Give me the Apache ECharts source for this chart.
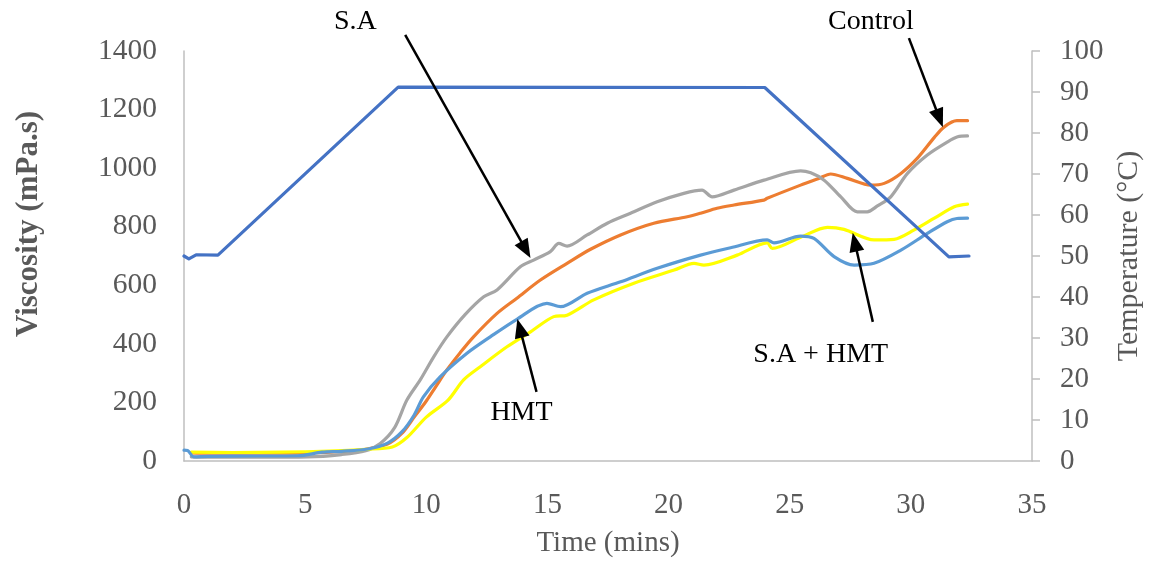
<!DOCTYPE html>
<html>
<head>
<meta charset="utf-8">
<script src="https://cdn.jsdelivr.net/npm/echarts@6/dist/echarts.min.js"></script>
<style>
  html, body { margin: 0; padding: 0; background: #fff; }
  #chart { width: 1157px; height: 564px; }
</style>
</head>
<body>
<div id="chart"></div>
<script>
// Pasting profile: viscosity of four samples against time, with the temperature programme.
const controlTime = [0.3, 1, 3, 5, 6.5, 7.5, 8.4, 9.0, 9.5, 10.0, 10.4, 10.85, 11.4, 11.95, 12.92, 13.74, 14.71, 15.81, 16.78, 18.02, 19.39, 20.77, 21.32, 22.0, 22.7, 23.94, 24.07, 25.45, 26.2, 26.69, 27.38, 28.35, 28.9, 29.59, 30.28, 30.97, 31.38, 31.9, 32.34];
const controlVisc = [28, 27, 27, 28, 32, 40, 58, 95, 150, 205, 255, 311, 370, 424, 504, 556, 618, 675, 723, 772, 812, 834, 846, 863, 874, 891, 897, 942, 965, 980, 965, 942, 948, 982, 1035, 1105, 1141, 1162, 1162];

const saTime = [0.3, 1, 3, 5.1, 6.5, 7.5, 8.1, 8.7, 9.2, 9.75, 10.3, 10.85, 11.6, 12.37, 12.92, 13.88, 14.43, 15.12, 15.47, 15.81, 16.64, 17.47, 18.43, 19.53, 20.63, 21.38, 21.8, 22.7, 23.94, 25.45, 25.87, 26.42, 27.11, 27.79, 28.2, 28.62, 29.17, 29.86, 30.68, 31.52, 31.93, 32.34];
const saVisc = [14, 13, 13, 14, 22, 35, 60, 115, 208, 277, 355, 424, 500, 561, 584, 663, 686, 715, 743, 734, 772, 812, 846, 885, 914, 925, 902, 925, 959, 991, 984, 959, 902, 851, 851, 871, 902, 982, 1045, 1090, 1107, 1110];

const hmtTime = [0, 0.15, 0.4, 1, 3, 4.7, 5.7, 6.5, 7.6, 8.4, 9.0, 9.5, 9.88, 10.58, 11.68, 12.64, 13.74, 14.98, 15.54, 16.64, 18.02, 19.53, 21.32, 22.56, 24.07, 24.35, 25.45, 26.0, 26.83, 27.66, 28.48, 29.59, 30.68, 31.5, 31.9, 32.34];
const hmtVisc = [37, 36, 14, 16, 17, 18, 30, 33, 41, 61, 100, 157, 219, 288, 368, 424, 484, 538, 527, 573, 612, 658, 703, 728, 755, 745, 768, 760, 698, 669, 675, 720, 777, 817, 828, 829];

const saHmtTime = [0.3, 2, 4, 6, 7.5, 8.6, 9.2, 10.0, 10.9, 11.54, 12.23, 13.33, 14.3, 15.26, 15.81, 16.91, 18.57, 20.23, 21.05, 21.46, 22.83, 24.07, 24.28, 25.45, 26.56, 27.24, 28.48, 29.31, 30.14, 30.97, 31.79, 32.34];
const saHmtVisc = [30, 29, 30, 34, 40, 48, 80, 150, 208, 277, 322, 390, 441, 493, 498, 550, 607, 652, 675, 669, 703, 745, 726, 764, 798, 791, 755, 757, 789, 829, 868, 877];

const tempTime = [0, 0.2, 0.5, 1.4, 8.84, 23.97, 31.57, 32.4];
const tempValue = [50, 49.3, 50.3, 50.2, 91.2, 91.1, 49.8, 50];

const xTicks = { min: 0, max: 35, interval: 5 };
const viscTicks = { min: 0, max: 1400, interval: 200 };
const tempTicks = { min: 0, max: 100, interval: 10 };

// Callout labels with arrows, in time / viscosity units
const callouts = [
  { text: 'S.A',       label: [7.07, 1499],  from: [9.13, 1455],  to: [14.3, 693] },
  { text: 'Control',   label: [28.35, 1499], from: [29.92, 1444], to: [31.32, 1140] },
  { text: 'HMT',       label: [13.93, 164],  from: [14.55, 236],  to: [13.76, 485] },
  { text: 'S.A + HMT', label: [26.28, 362],  from: [28.43, 475],  to: [27.6, 779] }
];

const FONT = "'Liberation Serif', 'Times New Roman', serif";
const AXIS_GRAY = '#bfbfbf';
const TEXT_GRAY = '#595959';

const zip = (xs, ys) => xs.map((x, i) => [x, ys[i]]);

function lineSeries(name, xs, ys, color, yAxisIndex, smooth) {
  return {
    name, type: 'line', yAxisIndex: yAxisIndex || 0,
    data: zip(xs, ys), showSymbol: false, symbol: 'none',
    smooth: smooth || false,
    lineStyle: { color, width: 3.2, cap: 'round', join: 'round' }, itemStyle: { color },
    animation: false
  };
}

const chart = echarts.init(document.getElementById('chart'));
chart.setOption({
  backgroundColor: '#fff',
  animation: false,
  grid: { left: 184, right: 125, top: 51, bottom: 103 },
  xAxis: {
    type: 'value', ...xTicks,
    axisLine: { show: true, lineStyle: { color: AXIS_GRAY, width: 1.5 } },
    axisTick: { show: false },
    splitLine: { show: false },
    axisLabel: { margin: 30, fontSize: 29, color: TEXT_GRAY, fontFamily: FONT },
    name: 'Time (mins)', nameLocation: 'middle', nameGap: 68,
    nameTextStyle: { fontSize: 29, color: TEXT_GRAY, fontFamily: FONT }
  },
  yAxis: [
    {
      type: 'value', position: 'left', ...viscTicks,
      axisLine: { show: true, lineStyle: { color: AXIS_GRAY, width: 1.5 } },
      axisTick: { show: false },
      splitLine: { show: false },
      axisLabel: { margin: 27, fontSize: 29.5, color: TEXT_GRAY, fontFamily: FONT, formatter: (v) => String(v) },
      name: 'Viscosity (mPa.s)', nameLocation: 'middle', nameGap: 140,
      nameTextStyle: { fontSize: 31, fontWeight: 'bold', color: TEXT_GRAY, fontFamily: FONT, padding: [0, 0, 0, 64] }
    },
    {
      type: 'value', position: 'right', ...tempTicks,
      axisLine: { show: true, lineStyle: { color: AXIS_GRAY, width: 1.5 } },
      axisTick: { show: true, length: 8, lineStyle: { color: AXIS_GRAY, width: 1.5 } },
      splitLine: { show: false },
      axisLabel: { margin: 28, fontSize: 29, color: TEXT_GRAY, fontFamily: FONT },
      name: 'Temperature (°C)', nameLocation: 'middle', nameGap: 74,
      nameTextStyle: { fontSize: 30, color: TEXT_GRAY, fontFamily: FONT }
    }
  ],
  series: [
    lineSeries('Control', controlTime, controlVisc, '#ED7D31', 0, 0.3),
    lineSeries('S.A', saTime, saVisc, '#A5A5A5', 0, 0.3),
    lineSeries('S.A + HMT', saHmtTime, saHmtVisc, '#FFFF00', 0, 0.3),
    lineSeries('HMT', hmtTime, hmtVisc, '#5B9BD5', 0, 0.3),
    lineSeries('Temperature', tempTime, tempValue, '#4472C4', 1, false)
  ]
});

// Arrows and their labels, placed through the viscosity/time scales
const toPx = (p) => chart.convertToPixel({ xAxisIndex: 0, yAxisIndex: 0 }, p);
const graphics = [];
callouts.forEach((c) => {
  const a = toPx(c.from), b = toPx(c.to), t = toPx(c.label);
  const dx = b[0] - a[0], dy = b[1] - a[1];
  const len = Math.hypot(dx, dy);
  const ux = dx / len, uy = dy / len;
  const head = 19, half = 7.5;
  const bx = b[0] - ux * head, by = b[1] - uy * head;
  graphics.push({
    type: 'line', z: 100,
    shape: { x1: a[0], y1: a[1], x2: bx + ux * 2, y2: by + uy * 2 },
    style: { stroke: '#000', lineWidth: 2.5 }
  });
  graphics.push({
    type: 'polygon', z: 100,
    shape: { points: [[b[0], b[1]], [bx - uy * half, by + ux * half], [bx + uy * half, by - ux * half]] },
    style: { fill: '#000' }
  });
  graphics.push({
    type: 'text', z: 100, x: t[0], y: t[1],
    style: { text: c.text, fontSize: 28, fontFamily: FONT, fill: '#000', align: 'center', verticalAlign: 'middle' }
  });
});
chart.setOption({ graphic: graphics });
</script>
</body>
</html>
